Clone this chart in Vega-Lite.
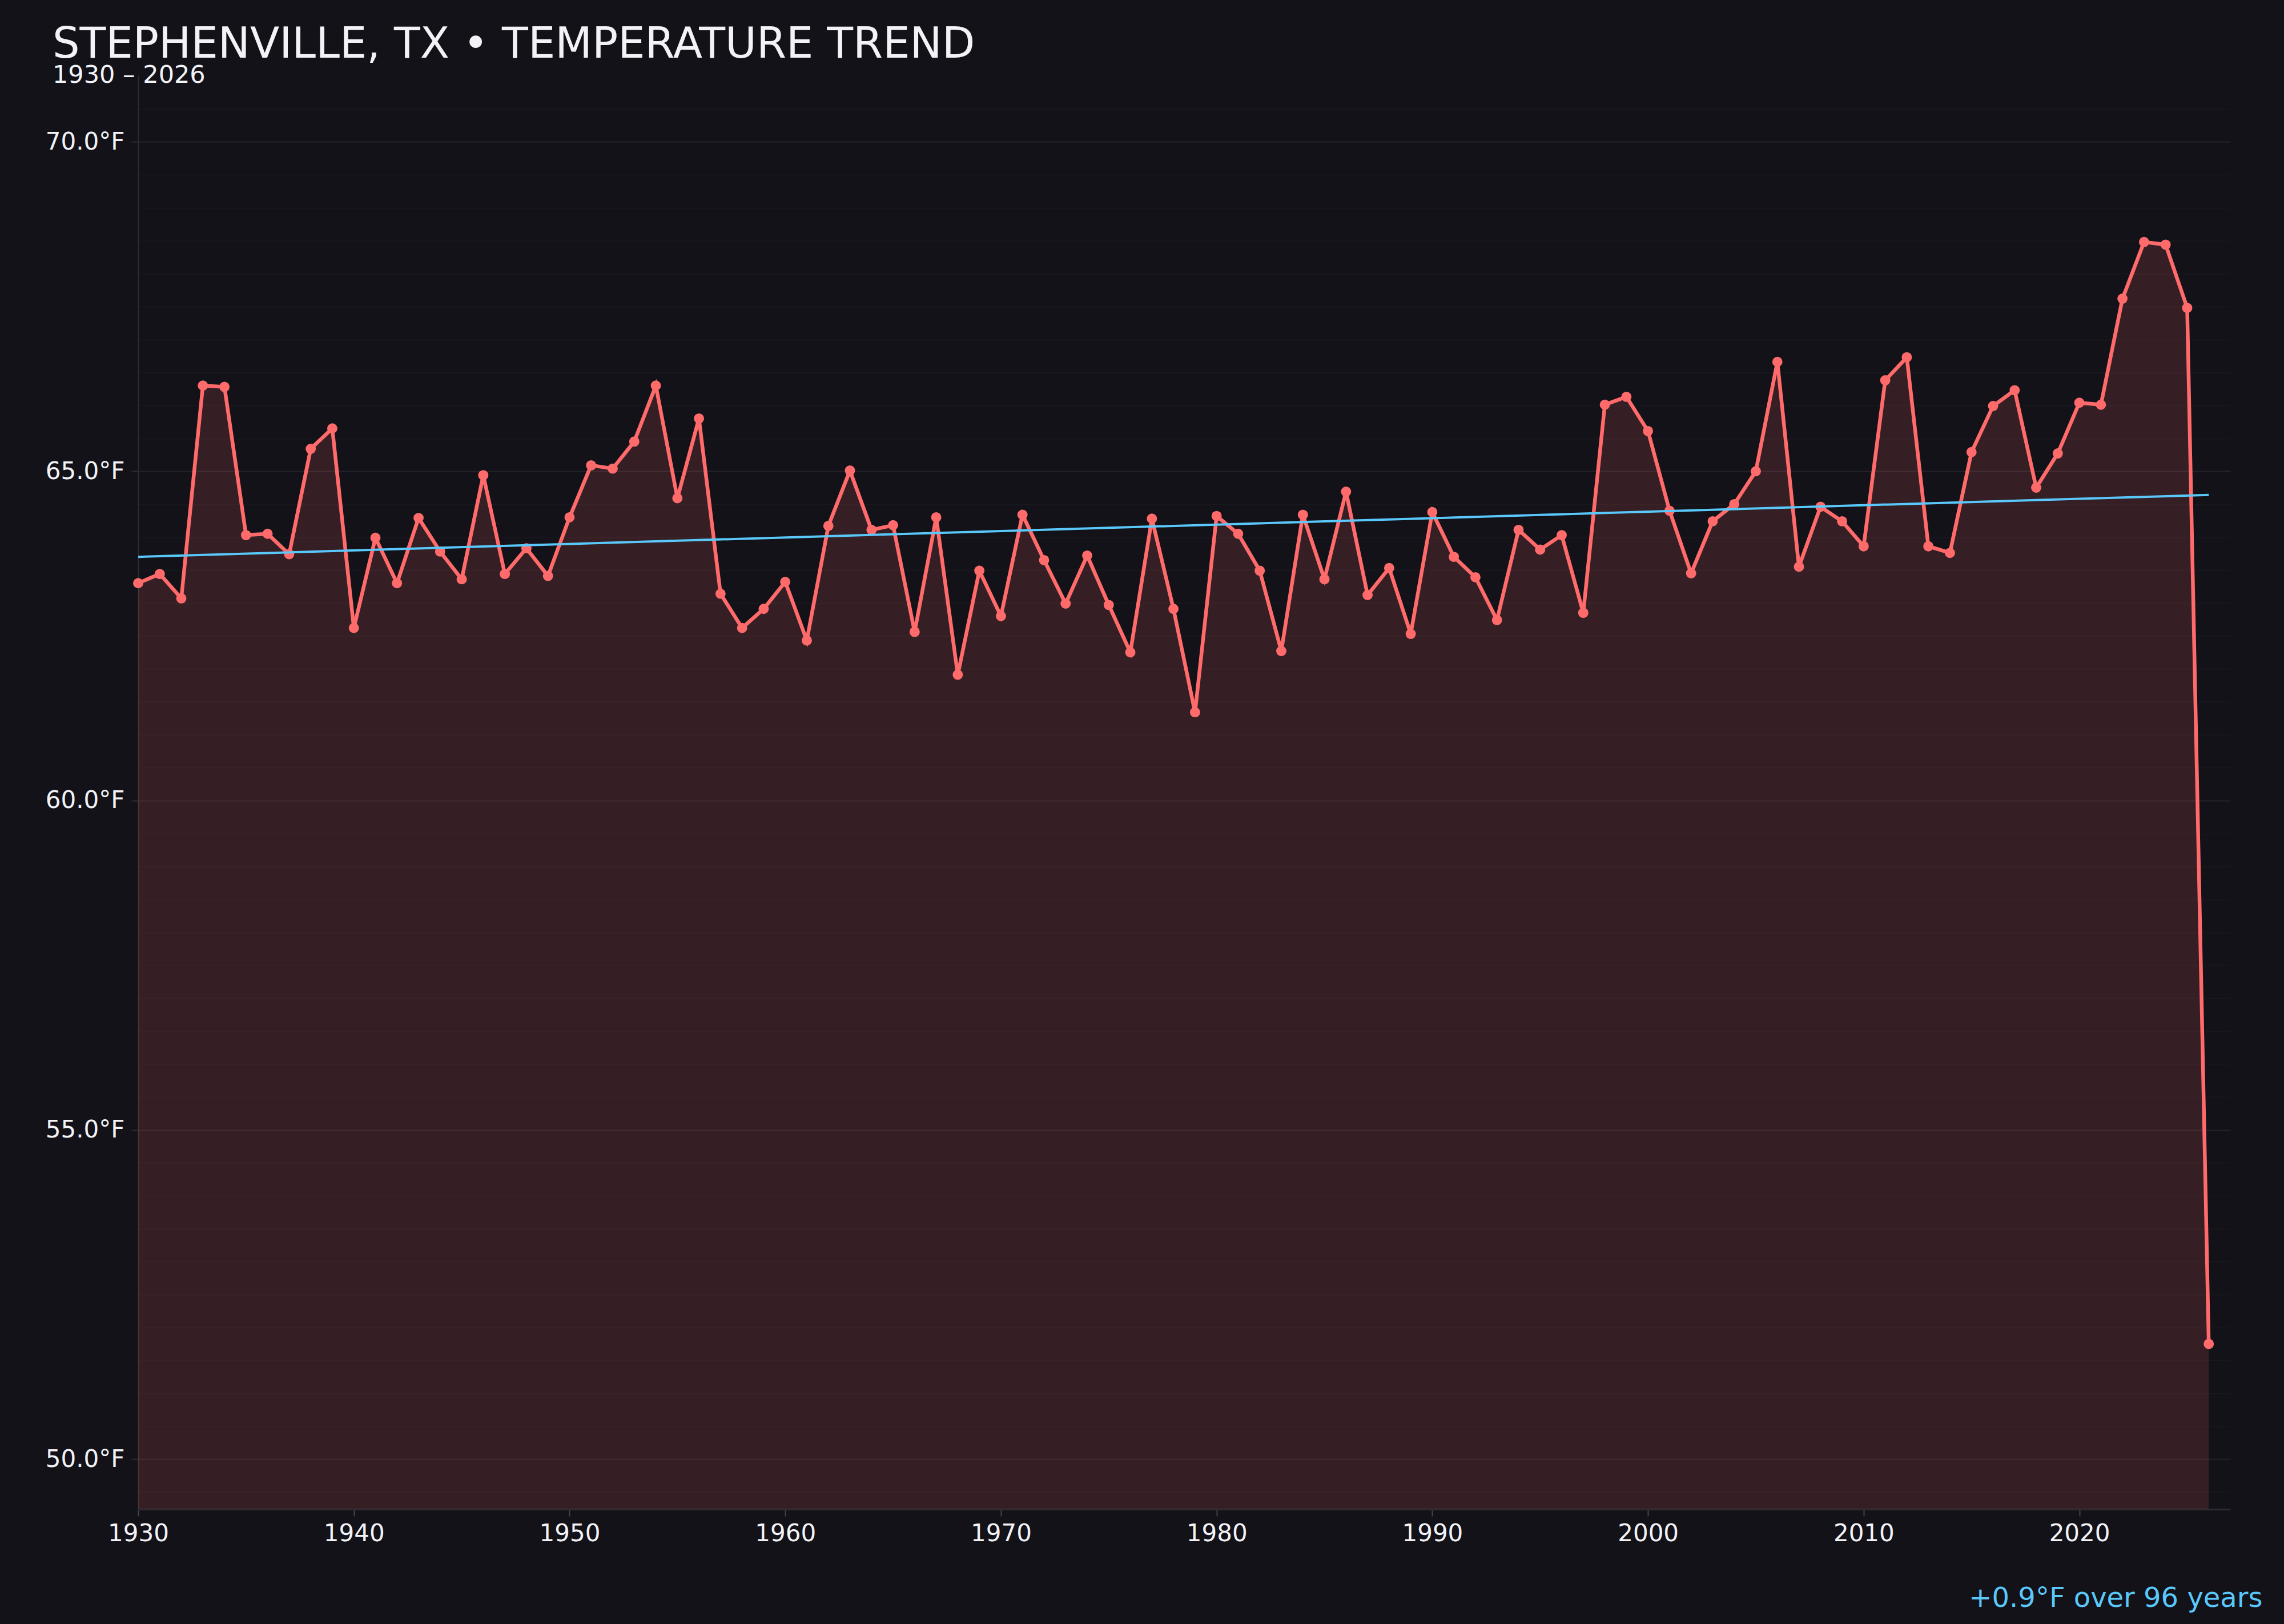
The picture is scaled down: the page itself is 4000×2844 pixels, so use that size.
{
  "$schema": "https://vega.github.io/schema/vega-lite/v6.json",
  "description": "Stephenville, TX temperature trend",
  "autosize": {"type": "none"},
  "width": 3664,
  "height": 2511,
  "padding": {"left": 242, "top": 132, "right": 94, "bottom": 201},
  "background": "#121218",
  "config": {
    "view": {"stroke": null},
    "font": "DejaVu Sans"
  },
  "title": {
    "text": "STEPHENVILLE, TX • TEMPERATURE TREND",
    "subtitle": "1930 – 2026",
    "anchor": "start",
    "frame": "group",
    "dx": -150,
    "offset": -23,
    "font": "DejaVu Sans",
    "fontSize": 75,
    "fontWeight": "normal",
    "color": "#f2f2f7",
    "subtitleFont": "DejaVu Sans",
    "subtitleFontSize": 43,
    "subtitleColor": "#f2f2f7",
    "subtitlePadding": -6
  },
  "datasets": {
    "temps": [
      {"year": 1930, "temp": 63.30}, {"year": 1931, "temp": 63.44}, {"year": 1932, "temp": 63.07},
      {"year": 1933, "temp": 66.30}, {"year": 1934, "temp": 66.28}, {"year": 1935, "temp": 64.03},
      {"year": 1936, "temp": 64.05}, {"year": 1937, "temp": 63.74}, {"year": 1938, "temp": 65.34},
      {"year": 1939, "temp": 65.65}, {"year": 1940, "temp": 62.62}, {"year": 1941, "temp": 63.99},
      {"year": 1942, "temp": 63.30}, {"year": 1943, "temp": 64.29}, {"year": 1944, "temp": 63.78},
      {"year": 1945, "temp": 63.36}, {"year": 1946, "temp": 64.94}, {"year": 1947, "temp": 63.44},
      {"year": 1948, "temp": 63.83}, {"year": 1949, "temp": 63.41}, {"year": 1950, "temp": 64.30},
      {"year": 1951, "temp": 65.09}, {"year": 1952, "temp": 65.04}, {"year": 1953, "temp": 65.45},
      {"year": 1954, "temp": 66.30}, {"year": 1955, "temp": 64.59}, {"year": 1956, "temp": 65.80},
      {"year": 1957, "temp": 63.14}, {"year": 1958, "temp": 62.62}, {"year": 1959, "temp": 62.91},
      {"year": 1960, "temp": 63.32}, {"year": 1961, "temp": 62.43}, {"year": 1962, "temp": 64.17},
      {"year": 1963, "temp": 65.01}, {"year": 1964, "temp": 64.11}, {"year": 1965, "temp": 64.18},
      {"year": 1966, "temp": 62.56}, {"year": 1967, "temp": 64.30}, {"year": 1968, "temp": 61.91},
      {"year": 1969, "temp": 63.49}, {"year": 1970, "temp": 62.80}, {"year": 1971, "temp": 64.34},
      {"year": 1972, "temp": 63.65}, {"year": 1973, "temp": 62.99}, {"year": 1974, "temp": 63.72},
      {"year": 1975, "temp": 62.97}, {"year": 1976, "temp": 62.25}, {"year": 1977, "temp": 64.28},
      {"year": 1978, "temp": 62.91}, {"year": 1979, "temp": 61.34}, {"year": 1980, "temp": 64.32},
      {"year": 1981, "temp": 64.05}, {"year": 1982, "temp": 63.49}, {"year": 1983, "temp": 62.27},
      {"year": 1984, "temp": 64.34}, {"year": 1985, "temp": 63.36}, {"year": 1986, "temp": 64.69},
      {"year": 1987, "temp": 63.12}, {"year": 1988, "temp": 63.53}, {"year": 1989, "temp": 62.53},
      {"year": 1990, "temp": 64.38}, {"year": 1991, "temp": 63.70}, {"year": 1992, "temp": 63.39},
      {"year": 1993, "temp": 62.74}, {"year": 1994, "temp": 64.11}, {"year": 1995, "temp": 63.81},
      {"year": 1996, "temp": 64.03}, {"year": 1997, "temp": 62.85}, {"year": 1998, "temp": 66.01},
      {"year": 1999, "temp": 66.13}, {"year": 2000, "temp": 65.61}, {"year": 2001, "temp": 64.40},
      {"year": 2002, "temp": 63.45}, {"year": 2003, "temp": 64.24}, {"year": 2004, "temp": 64.50},
      {"year": 2005, "temp": 65.00}, {"year": 2006, "temp": 66.66}, {"year": 2007, "temp": 63.55},
      {"year": 2008, "temp": 64.46}, {"year": 2009, "temp": 64.24}, {"year": 2010, "temp": 63.86},
      {"year": 2011, "temp": 66.38}, {"year": 2012, "temp": 66.73}, {"year": 2013, "temp": 63.86},
      {"year": 2014, "temp": 63.76}, {"year": 2015, "temp": 65.29}, {"year": 2016, "temp": 65.99},
      {"year": 2017, "temp": 66.23}, {"year": 2018, "temp": 64.75}, {"year": 2019, "temp": 65.27},
      {"year": 2020, "temp": 66.04}, {"year": 2021, "temp": 66.01}, {"year": 2022, "temp": 67.62},
      {"year": 2023, "temp": 68.48}, {"year": 2024, "temp": 68.44}, {"year": 2025, "temp": 67.48},
      {"year": 2026, "temp": 51.75}
    ],
    "trend": [
      {"year": 1930, "temp": 63.70},
      {"year": 2026, "temp": 64.64}
    ]
  },
  "layer": [
    {
      "data": {"name": "temps"},
      "mark": {"type": "area", "color": "#ff6b6b", "fillOpacity": 0.15},
      "encoding": {
        "x": {
          "field": "year",
          "type": "quantitative",
          "scale": {"domain": [1930, 2027], "nice": false, "zero": false},
          "axis": {
            "values": [1930, 1940, 1950, 1960, 1970, 1980, 1990, 2000, 2010, 2020],
            "format": "d",
            "grid": false,
            "labelFlush": false,
            "domainColor": "#2c2c33",
            "domainWidth": 3,
            "tickColor": "#44444c",
            "tickWidth": 2,
            "tickSize": 12,
            "labelPadding": 10,
            "labelFont": "DejaVu Sans",
            "labelFontSize": 42,
            "labelColor": "#f2f2f7",
            "title": "+0.9°F over 96 years",
            "titleFont": "DejaVu Sans",
            "titleFontSize": 48,
            "titleFontWeight": "normal",
            "titleColor": "#5ac8fa",
            "titleAlign": "right",
            "titleBaseline": "alphabetic",
            "titleX": 3720,
            "titleY": 170
          }
        },
        "y": {
          "field": "temp",
          "type": "quantitative",
          "scale": {"domain": [49.24, 71.01], "nice": false, "zero": false},
          "axis": {
            "values": [49.5, 50, 50.5, 51, 51.5, 52, 52.5, 53, 53.5, 54, 54.5, 55, 55.5, 56, 56.5, 57, 57.5, 58, 58.5, 59, 59.5, 60, 60.5, 61, 61.5, 62, 62.5, 63, 63.5, 64, 64.5, 65, 65.5, 66, 66.5, 67, 67.5, 68, 68.5, 69, 69.5, 70, 70.5],
            "labelExpr": "datum.value % 5 === 0 ? format(datum.value, '.1f') + '°F' : ''",
            "grid": true,
            "gridColor": {"condition": {"test": "datum.value % 5 === 0", "value": "#232329"}, "value": "#17171d"},
            "gridWidth": 2,
            "tickOpacity": {"condition": {"test": "datum.value % 5 === 0", "value": 1}, "value": 0},
            "tickColor": "#2c2c33",
            "tickWidth": 2,
            "tickSize": 12,
            "labelPadding": 12,
            "labelFont": "DejaVu Sans",
            "labelFontSize": 42,
            "labelColor": "#f2f2f7",
            "domainColor": "#2c2c33",
            "domainWidth": 2,
            "title": null
          }
        },
        "y2": {"datum": 49.24}
      }
    },
    {
      "data": {"name": "temps"},
      "mark": {
        "type": "line",
        "color": "#ff6b6b",
        "strokeWidth": 6.5,
        "point": {"filled": true, "size": 320, "color": "#ff6b6b", "opacity": 1}
      },
      "encoding": {
        "x": {"field": "year", "type": "quantitative"},
        "y": {"field": "temp", "type": "quantitative"}
      }
    },
    {
      "data": {"name": "trend"},
      "mark": {"type": "line", "color": "#5ac8fa", "strokeWidth": 4},
      "encoding": {
        "x": {"field": "year", "type": "quantitative"},
        "y": {"field": "temp", "type": "quantitative"}
      }
    }
  ]
}
